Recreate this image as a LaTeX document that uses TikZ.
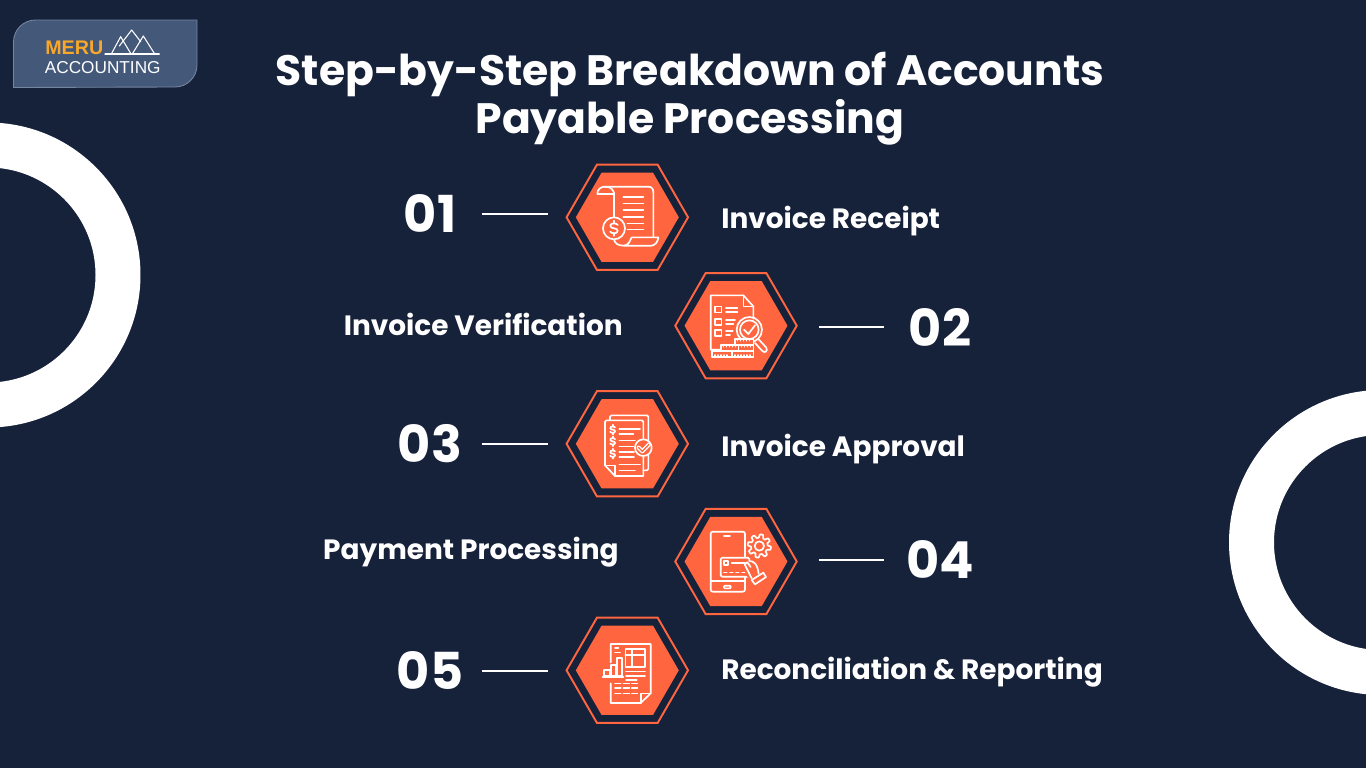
\documentclass[tikz,border=0pt]{standalone}
\usepackage{fontspec}
\usepackage{xcolor}
\setmainfont{Poppins}
\newfontfamily\logofont{Liberation Sans}
\usetikzlibrary{shapes.geometric}
\definecolor{navy}{HTML}{16213A}
\definecolor{coral}{HTML}{FF6640}
\definecolor{logoblue}{HTML}{44597A}
\definecolor{logoedge}{HTML}{75859F}
\definecolor{logoamber}{HTML}{F9A72B}
\tikzset{
	ring/.style={draw=white,line width=0.9cm},
	hexouter/.style={regular polygon,regular polygon sides=6,draw=coral,line width=1.1pt,minimum size=2.43cm,inner sep=0pt},
	hexinner/.style={regular polygon,regular polygon sides=6,fill=coral,minimum size=2.06cm,inner sep=0pt},
	titletext/.style={text=white,font=\fontsize{24.2}{27.3}\selectfont\bfseries,align=center},
	numtext/.style={text=white,font=\fontsize{29}{33}\selectfont\bfseries,inner sep=0pt,minimum width=1.6cm},
	labeltext/.style={text=white,font=\fontsize{15.9}{19}\selectfont\bfseries,inner sep=0pt},
	linkleft/.style={white,line width=1.2pt,shorten <=0.24cm,shorten >=1.586cm},
	linkright/.style={white,line width=1.2pt,shorten <=0.32cm,shorten >=1.66cm},
	icon/.style={x=0.00667cm,y=-0.00667cm,white,line width=0.95pt,line join=round,line cap=round},
	dollarmark/.pic={
		\draw (9,-8) .. controls (7,-13) and (-9,-14) .. (-9,-6) .. controls (-9,2) and (9,-2) .. (9,6) .. controls (9,14) and (-7,13) .. (-9,8);
		\draw (0,-18) -- (0,-12) (0,12) -- (0,18);
	}
}
\begin{document}
\begin{tikzpicture}[x=0.02cm,y=-0.02cm]
	\clip (0,0) rectangle (1366,768);
	\fill[navy] (0,0) rectangle (1366,768);
	\draw[ring] (-12,275) circle (130);
	\draw[ring] (1381.5,542.5) circle (130);
	% logo
	\draw[logoedge,fill=logoblue,line width=0.5pt] (13.5,87.5) -- (13.5,42) arc (180:270:22) -- (197,20) -- (197,65) arc (0:90:22) -- cycle;
	\node[text=logoamber,font=\logofont\fontsize{11.2}{12}\selectfont\bfseries,inner sep=0pt,anchor=west] (meru) at (45,48) {MERU};
	\node[text=white,font=\logofont\fontsize{9.8}{12}\selectfont,inner sep=0pt,anchor=west] (accounting) at (44.5,68) {ACCOUNTING};
	\begin{scope}[shift={(0,10)},icon,line width=0.6pt]
		\draw (315,132) -- (478,132);
		\draw (335,130) -- (362,80) -- (392,130);
		\draw (358,108) -- (395,60) -- (422,95);
		\draw (398,130) -- (430,78) -- (463,130);
	\end{scope}
	% title
	\node[titletext] (title) at (690,99) {Step-by-Step Breakdown of Accounts\\Payable Processing};
	% rows
	\foreach \i/\hx/\hy/\nx/\ny/\numlab/\side in {1/627.3/217.3/430/214/01/left,2/736/325.7/940/327/02/right,3/627.3/443.8/430/444/03/left,4/736/561.5/940/560/04/right,5/627.3/670.3/430/671/05/left}{
		\node[hexouter] (hex\i) at (\hx,\hy) {};
		\node[hexinner] (hexin\i) at (\hx,\hy) {};
		\node[numtext] (num\i) at (\nx,\ny) {\numlab};
		\draw[link\side] (num\i) -- (num\i -| hex\i);
	}
	\node[labeltext,anchor=west] (lab1) at (721,221) {Invoice Receipt};
	\node[labeltext,anchor=east] (lab2) at (623,324) {Invoice Verification};
	\node[labeltext,anchor=west] (lab3) at (721,449) {Invoice Approval};
	\node[labeltext,anchor=east] (lab4) at (619,552) {Payment Processing};
	\node[labeltext,anchor=west] (lab5) at (721,672) {Reconciliation \& Reporting};
	% scroll
	\begin{scope}[shift={(590,180)},icon]
		\draw (22,42) .. controls (22,28) and (32,20) .. (45,20) -- (175,20) .. controls (185,20) and (190,27) .. (190,37) -- (190,170);
		\draw (22,42) -- (72,42) .. controls (72,30) and (62,20) .. (45,20);
		\draw (72,38) -- (72,112);
		\foreach \ly in {50,70,90,110}{\draw (100,\ly) -- (160,\ly);}
		\draw (112,130) -- (160,130);
		\draw (112,148) -- (160,148);
		\draw (72,145) circle (33);
		\pic[scale=1.25] at (72,145) {dollarmark};
		\draw (72,178) .. controls (74,190) and (85,197) .. (100,197) -- (185,197) .. controls (197,195) and (204,184) .. (205,172) -- (125,172) .. controls (120,180) and (118,197) .. (100,197);
	\end{scope}
	% checklist and magnifier
	\begin{scope}[shift={(700,288)},icon]
		\draw (60,185) -- (32,185) -- (32,22) -- (130,22) -- (160,55) -- (160,92);
		\draw (130,22) -- (130,55) -- (160,55);
		\foreach \ly in {55,92,125}{\draw (45,\ly) rectangle (64,\ly+18);}
		\draw (78,60) -- (112,60) (78,72) -- (112,72) (78,95) -- (105,95) (78,108) -- (100,108) (78,128) -- (98,128) (78,140) -- (90,140);
		\draw (148,125) circle (38);
		\draw (148,125) circle (28);
		\draw (132,125) -- (145,138) -- (165,112);
		\draw (176,154) -- (198,178) .. controls (206,188) and (194,198) .. (186,188) -- (165,165);
		\fill[coral] (104,152) rectangle (160,188);
		\fill[coral] (62,170) rectangle (160,188);
		\fill[coral] (35,188) rectangle (160,207);
		\draw (104,152) rectangle (160,170);
		\draw (62,170) rectangle (115,188);
		\draw (115,170) rectangle (160,188);
		\draw (35,188) rectangle (95,207);
		\draw (95,188) rectangle (160,207);
		\foreach \tx in {112,121,130,139,148}{\draw (\tx,152) -- (\tx,158);}
		\foreach \tx in {70,79,88,97,106,124,133,142,151}{\draw (\tx,170) -- (\tx,176);}
		\foreach \tx in {44,53,62,71,80,104,113,122,131,140,149}{\draw (\tx,201) -- (\tx,207);}
	\end{scope}
	% approved invoice
	\begin{scope}[shift={(590,407)},icon]
		\draw[rounded corners=0.8pt] (60,40) -- (60,25) -- (175,25) -- (175,190) -- (160,190);
		\draw[rounded corners=0.8pt] (160,97) -- (160,40) -- (45,40) -- (45,175);
		\draw (45,175) -- (75,207) -- (160,207) -- (160,147);
		\draw (45,175) -- (75,175) -- (75,207);
		\draw (88,65) -- (150,65) (88,80) -- (130,80) (88,100) -- (135,100) (88,118) -- (130,118) (88,135) -- (132,135) (88,150) -- (132,150) (88,172) -- (150,172) (88,190) -- (135,190);
		\foreach \ly in {68,103,140}{\pic[scale=0.8] at (68,\ly) {dollarmark};}
		\draw[fill=coral] (160,122) circle (25);
		\draw[line width=2.3pt] (146,122) -- (157,133) -- (177,112);
		\draw[coral,line width=0.7pt] (146,122) -- (157,133) -- (177,112);
	\end{scope}
	% phone payment
	\begin{scope}[shift={(700,525)},icon]
		\draw[rounded corners=1.2pt] (32,20) rectangle (135,200);
		\draw (72,32) -- (90,32);
		\draw (32,168) -- (135,168);
		\draw[rounded corners=0.5pt] (72,182) rectangle (92,190);
		\draw[fill=coral,rounded corners=0.8pt] (62,98) rectangle (148,155);
		\draw (72,108) rectangle (84,120);
		\draw (95,113) -- (138,113);
		\draw (72,142) -- (80,142) (90,142) -- (98,142) (108,142) -- (116,142) (126,142) -- (134,142);
		\draw plot[samples=145,domain=0:360] ({178+(30+5*min(1,max(-1,2*sin(8*\x))))*cos(\x)},{63+(30+5*min(1,max(-1,2*sin(8*\x))))*sin(\x)}) -- cycle;
		\draw (178,63) circle (14);
		\fill[coral] (137,112) -- (168,108) -- (190,150) -- (160,172) -- (137,150) -- cycle;
		\draw (148,108) .. controls (160,108) and (172,115) .. (176,146);
		\draw (134,118) -- (142,112) -- (152,126) (134,118) -- (155,160);
		\draw (155,165) -- (190,143) -- (198,156) -- (165,178) -- cycle;
	\end{scope}
	% report
	\begin{scope}[shift={(590,634)},icon]
		\draw (62,85) -- (62,30) -- (182,30) -- (182,178) -- (152,207) -- (62,207) -- (62,148);
		\draw (182,178) -- (152,178) -- (152,207);
		\draw (75,42) -- (85,42) (75,55) -- (90,55);
		\draw (42,108) rectangle (60,126);
		\draw (62,92) rectangle (78,126);
		\draw (80,72) rectangle (95,126);
		\draw (38,128) -- (100,128);
		\draw (106,45) rectangle (165,98);
		\draw (106,62) -- (165,62) (125,45) -- (125,98);
		\draw (108,112) -- (165,112) (108,125) -- (165,125) (108,138) -- (140,138);
		\foreach \ly in {148,162,178}{\draw (75,\ly) -- (92,\ly) (100,\ly) -- (118,\ly) (125,\ly) -- (142,\ly);}
	\end{scope}
\end{tikzpicture}
\end{document}
